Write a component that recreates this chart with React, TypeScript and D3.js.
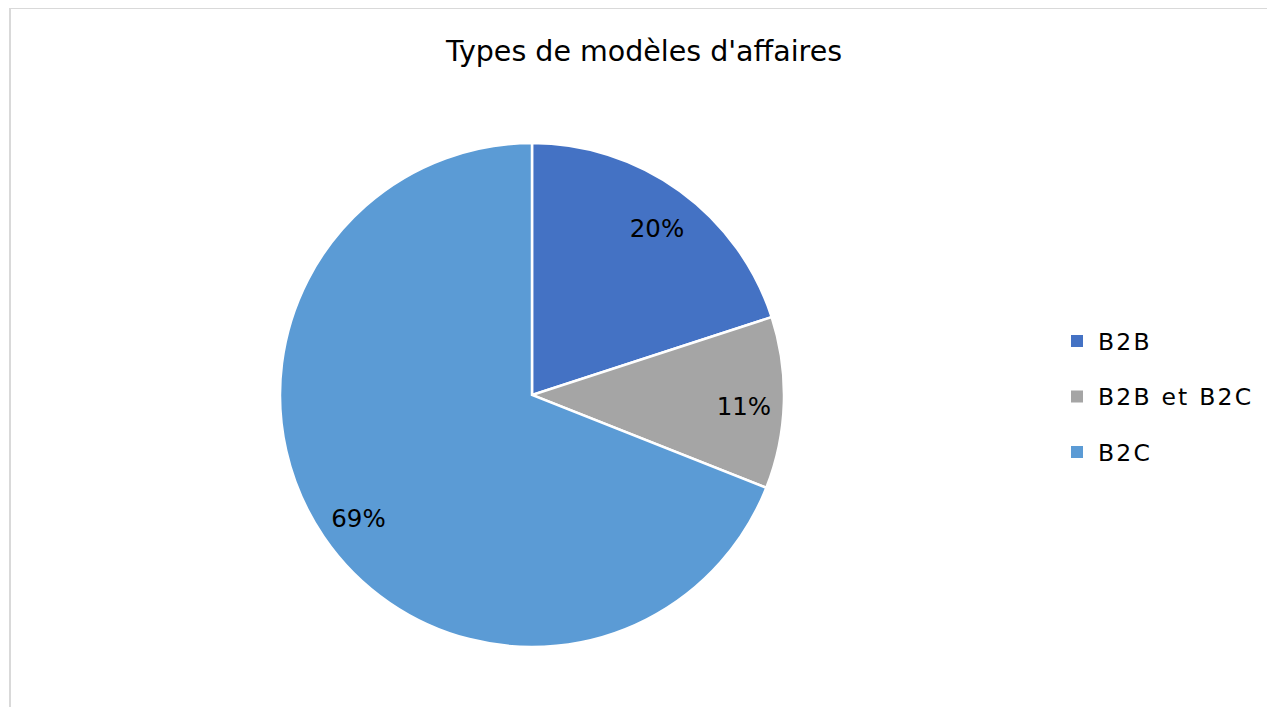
import React from "react";
import * as d3 from "d3";

const categories = ["B2B", "B2B et B2C", "B2C"];
const values = [20, 11, 69];
const colors = ["#4472C4", "#A5A5A5", "#5B9BD5"];
const title = "Types de modèles d'affaires";

const W = 1267;
const H = 707;
const FONT = "'DejaVu Sans', sans-serif";

const App = () => {
    const cx = 532;
    const cy = 395;
    const r = 252;

    const pie = d3.pie<number>().sort(null).value(d => d);
    const arcs = pie(values);
    const arc = d3.arc<d3.PieArcDatum<number>>().innerRadius(0).outerRadius(r);
    // labels sit a bit inside the rim
    const labelArc = d3.arc<d3.PieArcDatum<number>>().innerRadius(211).outerRadius(211);
    const total = d3.sum(values);

    const legendY = d3.scalePoint<string>().domain(categories).range([341, 452]);

    return (
        <svg width={W} height={H} style={{position: "absolute", left: 0, top: 0, display: "block"}}>
            <rect x={0} y={0} width={W} height={H} fill="#fff"/>
            <line x1={10} y1={8} x2={10} y2={H} stroke="#D9D9D9" strokeWidth={2}/>
            <line x1={9} y1={8.5} x2={W} y2={8.5} stroke="#D9D9D9" strokeWidth={1}/>

            <text x={644} y={61} textAnchor="middle" fontFamily={FONT} fontSize={28.5} fill="#000">{title}</text>

            <g transform={`translate(${cx},${cy})`}>
                {arcs.map((a, i) => (
                    <path key={i} d={arc(a) || ""} fill={colors[i]} stroke="#fff" strokeWidth={2.5}/>
                ))}
                {arcs.map((a, i) => {
                    const [x, y] = labelArc.centroid(a);
                    return (
                        <text key={"l" + i} x={x + 1} y={y + 13} textAnchor="middle"
                              fontFamily={FONT} fontSize={24.5} fill="#000">
                            {Math.round(a.data / total * 100) + "%"}
                        </text>
                    );
                })}
            </g>

            <g>
                {categories.map((c, i) => (
                    <g key={c} transform={`translate(1071,${legendY(c)})`}>
                        <rect x={0} y={-6} width={12} height={12} fill={colors[i]}/>
                        <text x={27} y={8.5} fontFamily={FONT} fontSize={23.5} letterSpacing={2.2} fill="#000">{c}</text>
                    </g>
                ))}
            </g>
        </svg>
    );
};

export default App;
